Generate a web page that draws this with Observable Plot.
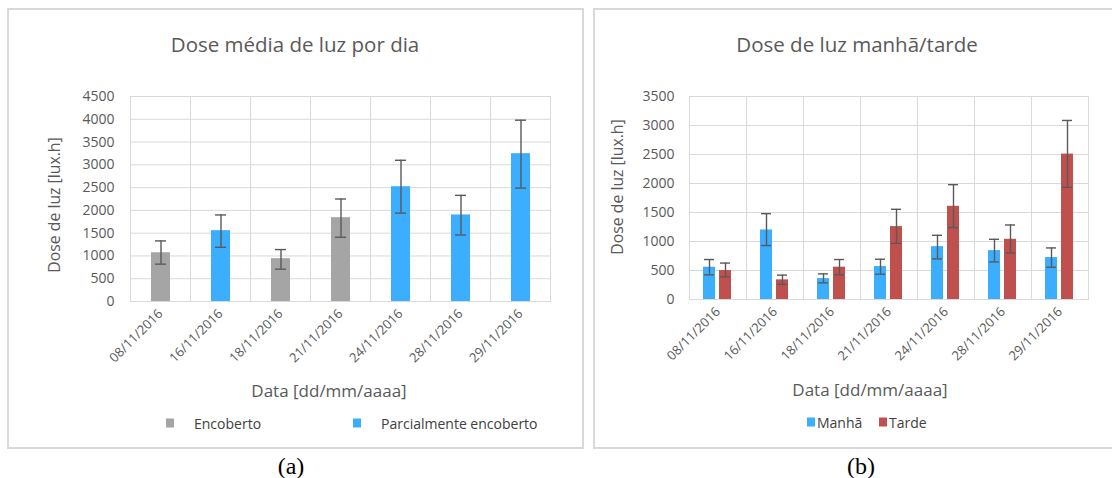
<!DOCTYPE html>
<html>
<head>
<meta charset="utf-8">
<script src="https://cdn.jsdelivr.net/npm/d3@7"></script>
<script src="https://cdn.jsdelivr.net/npm/@observablehq/plot@0.6"></script>
<style>
  body { margin: 0; background: #fff; font-family: "Open Sans", Lato, sans-serif; width: 1112px; height: 478px; overflow: hidden; position: relative; }
  .panel { position: absolute; border: 2px solid #D9D9D9; box-sizing: border-box; }
  .t { position: absolute; transform: translate(-50%, -50%); white-space: nowrap; color: #595959; }
  .ytitle { transform: translate(-50%, -50%) rotate(-90deg); }
  .plot { position: absolute; }
  .sq { position: absolute; width: 8px; height: 9px; transform: translate(-50%, -50%); }
  .lg { position: absolute; transform: translate(0, -50%); white-space: nowrap; color: #404040; font-size: 14px; }
  .cap { position: absolute; transform: translate(-50%, -50%); font-family: "Liberation Serif", "DejaVu Serif", serif; font-size: 24px; color: #000; }
</style>
</head>
<body>
<div class="panel" style="left:7px;top:8px;width:577px;height:441px;"></div>
<div class="panel" style="left:593px;top:8px;width:540px;height:441px;"></div>

<div class="t" style="left:295px;top:44px;font-size:20.5px;">Dose média de luz por dia</div>
<div class="t" style="left:857px;top:44px;font-size:20.5px;">Dose de luz manhã/tarde</div>

<div class="t ytitle" style="left:54px;top:205px;font-size:15.8px;">Dose de luz [lux.h]</div>
<div class="t ytitle" style="left:617px;top:187px;font-size:15.8px;">Dose de luz [lux.h]</div>

<div class="t" style="left:329px;top:390px;font-size:17px;">Data [dd/mm/aaaa]</div>
<div class="t" style="left:870px;top:389px;font-size:17px;">Data [dd/mm/aaaa]</div>

<div id="chartA" class="plot" style="left:8px;top:80px;"></div>
<div id="chartB" class="plot" style="left:593px;top:80px;"></div>

<div id="legA"></div>
<div id="legB"></div>

<div class="cap" style="left:291px;top:466px;">(a)</div>
<div class="cap" style="left:861px;top:466px;">(b)</div>

<script>
// ---- data ----
const datas = ["08/11/2016","16/11/2016","18/11/2016","21/11/2016","24/11/2016","28/11/2016","29/11/2016"];
const ceu = ["Encoberto","Parcialmente encoberto","Encoberto","Encoberto","Parcialmente encoberto","Parcialmente encoberto","Parcialmente encoberto"];
const ceuTipos = ["Encoberto","Parcialmente encoberto"];
const doseMedia = [1070, 1555, 940, 1840, 2520, 1900, 3245];
const mediaMin  = [820, 1190, 710, 1410, 1940, 1460, 2490];
const mediaMax  = [1330, 1900, 1140, 2250, 3100, 2330, 3980];
const yTicksA = [0,500,1000,1500,2000,2500,3000,3500,4000,4500];

const periodos = ["Manhã","Tarde"];
const doseManha = [557, 1199, 361, 568, 912, 843, 723];
const manhaMin  = [425, 930, 287, 436, 700, 648, 557];
const manhaMax  = [689, 1480, 442, 694, 1107, 1038, 889];
const doseTarde = [499, 339, 557, 1257, 1607, 1038, 2507];
const tardeMin  = [390, 262, 425, 970, 1239, 803, 1934];
const tardeMax  = [628, 420, 689, 1555, 1980, 1285, 3087];
const yTicksB = [0,500,1000,1500,2000,2500,3000,3500];

const corCeu = ["#A5A5A5", "#3BAEFF"];
const corPeriodo = ["#3BAEFF", "#C0504D"];

// ---- tables ----
const tabA = datas.map((d, i) => ({data: d, ceu: ceu[i], k: "v", v: doseMedia[i], lo: mediaMin[i], hi: mediaMax[i]}));
const tabB = datas.flatMap((d, i) => [
  {data: d, periodo: "Manhã", v: doseManha[i], lo: manhaMin[i], hi: manhaMax[i]},
  {data: d, periodo: "Tarde", v: doseTarde[i], lo: tardeMin[i], hi: tardeMax[i]}
]);

const grid = "#D9D9D9", txt = "#595959", err = "#595959";
const fmt = d3.format("d");
const font = "'Open Sans', Lato, sans-serif";

const chartA = Plot.plot({
  width: 575, height: 300,
  marginLeft: 121, marginRight: 32, marginTop: 16, marginBottom: 79,
  style: {fontFamily: font, background: "transparent", overflow: "visible"},
  fx: {domain: datas, paddingInner: 0, paddingOuter: 0, label: null},
  x: {domain: ["v"], padding: 0.52, axis: null},
  y: {domain: [0, 4500], label: null},
  color: {domain: ceuTipos, range: corCeu},
  marks: [
    Plot.gridY(yTicksA, {stroke: grid, strokeOpacity: 1}),
    Plot.frame({stroke: grid}),
    Plot.barY(tabA, {fx: "data", x: "k", y: "v", fill: "ceu"}),
    Plot.ruleX(tabA, {fx: "data", x: "k", y1: "lo", y2: "hi", stroke: err, strokeWidth: 1.4}),
    Plot.tickY(tabA, {fx: "data", x: "k", y: "lo", stroke: err, strokeWidth: 1.4, insetLeft: 4, insetRight: 4}),
    Plot.tickY(tabA, {fx: "data", x: "k", y: "hi", stroke: err, strokeWidth: 1.4, insetLeft: 4, insetRight: 4}),
    Plot.axisY(yTicksA, {tickSize: 0, tickPadding: 16, fontSize: 14, fill: txt, label: null, tickFormat: fmt}),
    Plot.axisFx({anchor: "bottom", tickRotate: -45, tickSize: 0, tickPadding: 10, fontSize: 13, fill: txt, label: null})
  ]
});
document.getElementById("chartA").append(chartA);

const chartB = Plot.plot({
  width: 519, height: 300,
  marginLeft: 93, marginRight: 22, marginTop: 16, marginBottom: 81,
  style: {fontFamily: font, background: "transparent", overflow: "visible"},
  fx: {domain: datas, paddingInner: 0, paddingOuter: 0, label: null},
  x: {domain: periodos, paddingInner: 0.22, paddingOuter: 0.845, axis: null},
  y: {domain: [0, 3500], label: null},
  color: {domain: periodos, range: corPeriodo},
  marks: [
    Plot.gridY(yTicksB, {stroke: grid, strokeOpacity: 1}),
    Plot.frame({stroke: grid}),
    Plot.barY(tabB, {fx: "data", x: "periodo", y: "v", fill: "periodo"}),
    Plot.ruleX(tabB, {fx: "data", x: "periodo", y1: "lo", y2: "hi", stroke: err, strokeWidth: 1.4}),
    Plot.tickY(tabB, {fx: "data", x: "periodo", y: "lo", stroke: err, strokeWidth: 1.4, insetLeft: 1, insetRight: 1}),
    Plot.tickY(tabB, {fx: "data", x: "periodo", y: "hi", stroke: err, strokeWidth: 1.4, insetLeft: 1, insetRight: 1}),
    Plot.axisY(yTicksB, {tickSize: 0, tickPadding: 15, fontSize: 14, fill: txt, label: null, tickFormat: fmt}),
    Plot.axisFx({anchor: "bottom", tickRotate: -45, tickSize: 0, tickPadding: 10, fontSize: 13, fill: txt, label: null})
  ]
});
document.getElementById("chartB").append(chartB);

// ---- legends ----
function legend(el, items) {
  const host = document.getElementById(el);
  items.forEach(([label, color, sx, tx, y]) => {
    const s = document.createElement("div");
    s.className = "sq"; s.style.left = sx + "px"; s.style.top = y + "px"; s.style.background = color;
    const t = document.createElement("div");
    t.className = "lg"; t.style.left = tx + "px"; t.style.top = y + "px"; t.textContent = label;
    host.append(s, t);
  });
}
legend("legA", [[ceuTipos[0], corCeu[0], 170, 194, 423], [ceuTipos[1], corCeu[1], 357, 381, 423]]);
legend("legB", [[periodos[0], corPeriodo[0], 811, 817, 422], [periodos[1], corPeriodo[1], 883, 889, 422]]);
</script>
</body>
</html>
